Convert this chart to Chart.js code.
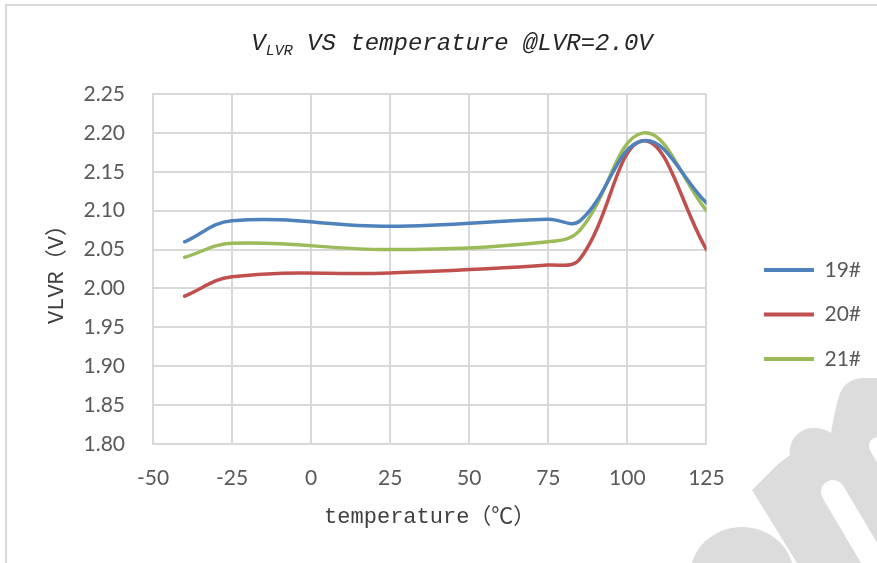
<!DOCTYPE html>
<html>
<head>
<meta charset="utf-8">
<script src="https://cdn.jsdelivr.net/npm/chart.js@4.4.1/dist/chart.umd.min.js"></script>
<style>
  html, body { margin: 0; padding: 0; background: #fff; }
</style>
</head>
<body>
<canvas id="lvrChart" width="877" height="563"></canvas>
<script>
// LVR trip voltage vs temperature, three sample chips
const temps = [-40, -25, 25, 75, 85, 105, 125];
const chip19 = [2.060, 2.087, 2.080, 2.089, 2.087, 2.190, 2.110];
const chip20 = [1.990, 2.015, 2.020, 2.030, 2.038, 2.190, 2.050];
const chip21 = [2.040, 2.058, 2.050, 2.060, 2.075, 2.200, 2.100];
const seriesNames = ["19#", "20#", "21#"];
const seriesColors = ["#4F81BD", "#C0504D", "#9BBB59"];

const xTicks = [-50, -25, 0, 25, 50, 75, 100, 125];
const yTicks = [1.80, 1.85, 1.90, 1.95, 2.00, 2.05, 2.10, 2.15, 2.20, 2.25];

const titleMain = "V";
const titleSub = "LVR";
const titleRest = " VS temperature @LVR=2.0V";
const xTitle = "temperature（℃）";
const yTitle = "VLVR（V）";

const gridColor = "#d9d9d9";
const tickFont = { family: "Lato, 'Open Sans', sans-serif", size: 21 };
const axisTitleFont = { family: "'Liberation Mono', 'Noto Sans CJK SC', monospace", size: 22 };

const toPoints = (ys) => temps.map((t, i) => ({ x: t, y: ys[i] }));

// outer frame + white background
const framePlugin = {
  id: "frame",
  beforeDraw(chart) {
    const { ctx, width, height } = chart;
    ctx.save();
    ctx.fillStyle = "#fff";
    ctx.fillRect(0, 0, width, height);
    ctx.strokeStyle = gridColor;
    ctx.lineWidth = 2;
    ctx.beginPath();
    ctx.moveTo(6, height);
    ctx.lineTo(6, 5);
    ctx.lineTo(width, 5);
    ctx.stroke();
    ctx.restore();
  }
};

// chart title with subscript
const titlePlugin = {
  id: "subTitle",
  afterDraw(chart) {
    const ctx = chart.ctx;
    const big = "italic 24px 'Liberation Mono', monospace";
    const small = "italic 15px 'Liberation Mono', monospace";
    ctx.save();
    ctx.fillStyle = "#262626";
    ctx.textBaseline = "alphabetic";
    ctx.font = big;
    const w1 = ctx.measureText(titleMain).width;
    const w3 = ctx.measureText(titleRest).width;
    ctx.font = small;
    const w2 = ctx.measureText(titleSub).width;
    let x = 452 - (w1 + w2 + w3) / 2;
    const y = 50;
    ctx.font = big;
    ctx.fillText(titleMain, x, y);
    x += w1;
    ctx.font = small;
    ctx.fillText(titleSub, x, y + 5);
    x += w2;
    ctx.font = big;
    ctx.fillText(titleRest, x, y);
    ctx.restore();
  }
};

// grey logo watermark in the bottom-right corner
const watermarkPlugin = {
  id: "watermark",
  afterDraw(chart) {
    const ctx = chart.ctx;
    ctx.save();
    ctx.fillStyle = "#dcdcdc";
    ctx.beginPath();
    ctx.ellipse(742, 576, 52, 49, 0, 0, Math.PI * 2);
    ctx.fill();

    ctx.beginPath();
    ctx.moveTo(752, 490);
    ctx.lineTo(777, 465);
    ctx.lineTo(790, 455);
    ctx.bezierCurveTo(788, 440, 800, 428, 813, 428);
    ctx.bezierCurveTo(821, 428, 827, 430, 831, 433);
    ctx.bezierCurveTo(833, 420, 836, 405, 840, 393);
    ctx.bezierCurveTo(845, 383, 852, 379, 862, 378);
    ctx.lineTo(877, 378);
    ctx.lineTo(877, 563);
    ctx.lineTo(797, 563);
    ctx.closePath();
    ctx.fill();

    ctx.strokeStyle = "#fff";
    ctx.lineCap = "round";
    ctx.lineWidth = 24;
    ctx.beginPath();
    ctx.moveTo(833, 492);
    ctx.lineTo(885, 580);
    ctx.stroke();
    ctx.lineWidth = 18;
    ctx.beginPath();
    ctx.moveTo(878, 446);
    ctx.lineTo(900, 485);
    ctx.stroke();
    ctx.restore();
  }
};

const makeSet = (label, ys, color) => ({
  label,
  data: toPoints(ys),
  borderColor: color,
  backgroundColor: color,
  borderWidth: 3.5,
  borderCapStyle: "round",
  pointRadius: 0,
  tension: 0.4,
  fill: false
});

new Chart(document.getElementById("lvrChart"), {
  type: "line",
  data: {
    datasets: [
      makeSet(seriesNames[0], chip19, seriesColors[0]),
      makeSet(seriesNames[1], chip20, seriesColors[1]),
      makeSet(seriesNames[2], chip21, seriesColors[2])
    ]
  },
  options: {
    responsive: false,
    animation: false,
    layout: { padding: { top: 94, bottom: 28, left: 0, right: 6 } },
    plugins: {
      title: { display: false },
      tooltip: { enabled: false },
      legend: {
        position: "right",
        align: "center",
        labels: {
          boxWidth: 50,
          boxHeight: 4,
          padding: 23.5,
          color: "#595959",
          font: tickFont,
          generateLabels(chart) {
            const items = Chart.defaults.plugins.legend.labels.generateLabels(chart);
            return items.map((it) => ({ ...it, lineWidth: 0, fillStyle: it.strokeStyle }));
          }
        }
      }
    },
    scales: {
      x: {
        type: "linear",
        min: -50,
        max: 125,
        afterBuildTicks: (s) => { s.ticks = xTicks.map((v) => ({ value: v })); },
        afterFit: (s) => { s.height = 91; },
        grid: { color: gridColor, lineWidth: 2, drawTicks: false },
        border: { color: gridColor, width: 2 },
        ticks: { color: "#595959", font: tickFont, padding: 22, maxRotation: 0 },
        title: {
          display: true,
          text: xTitle,
          color: "#404040",
          font: axisTitleFont,
          padding: { top: 10, bottom: 5 }
        }
      },
      y: {
        type: "linear",
        min: 1.8,
        max: 2.25,
        afterBuildTicks: (s) => { s.ticks = yTicks.map((v) => ({ value: v })); },
        afterFit: (s) => { s.width = 153; },
        grid: { color: gridColor, lineWidth: 2, drawTicks: false },
        border: { color: gridColor, width: 2 },
        ticks: {
          color: "#595959",
          font: tickFont,
          padding: 28,
          callback: (v) => Number(v).toFixed(2)
        },
        title: {
          display: true,
          text: yTitle,
          color: "#404040",
          font: axisTitleFont,
          padding: { top: 44, bottom: 10 }
        }
      },
      // empty spacer between plot and legend
      gap: {
        type: "linear",
        position: "right",
        display: true,
        grid: { display: false },
        border: { display: false },
        ticks: { display: false },
        afterFit: (s) => { s.width = 34; }
      }
    }
  },
  plugins: [framePlugin, titlePlugin, watermarkPlugin]
});
</script>
</body>
</html>
